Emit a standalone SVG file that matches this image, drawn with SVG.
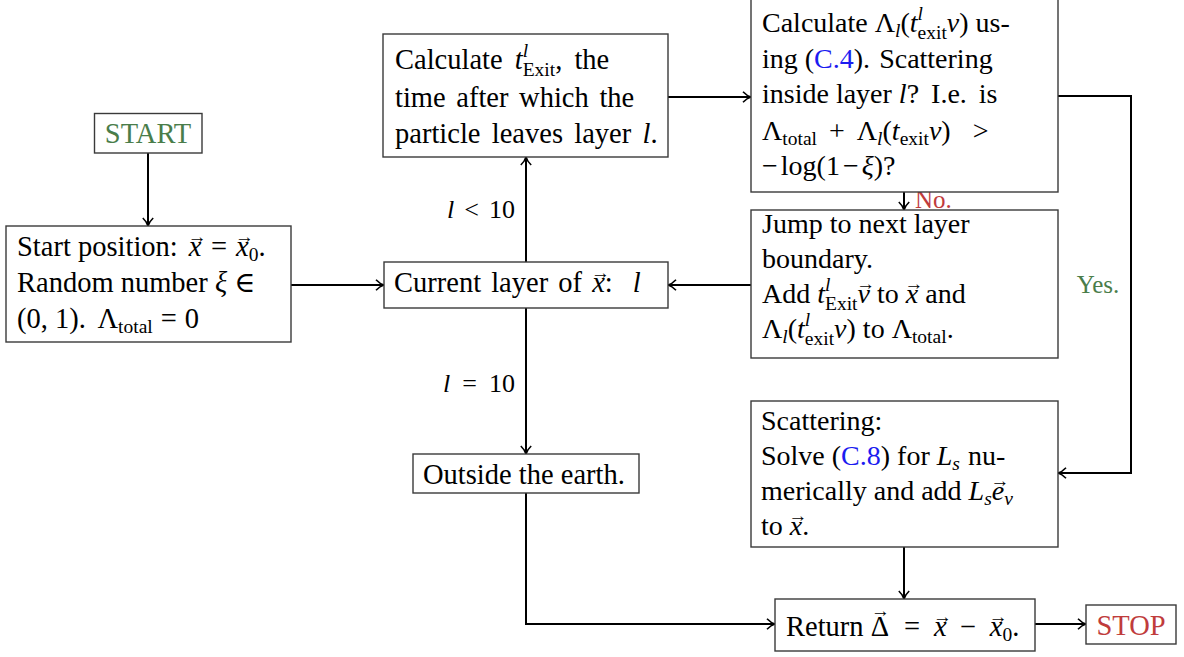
<svg xmlns="http://www.w3.org/2000/svg" width="1184" height="657" viewBox="0 0 1184 657">
<style>
.box{fill:#fff;stroke:#3a3a3a;stroke-width:1.4}
.t{font-family:"Liberation Serif","DejaVu Serif",serif;font-size:28.5px;fill:#000}
.r{font-size:28px}
.i{font-style:italic}
.sm{font-size:19.5px}
.acc{font-family:"Liberation Mono","DejaVu Sans Mono",monospace;font-size:19px;font-style:normal}
.lbl{font-family:"Liberation Serif","DejaVu Serif",serif;font-size:26px;fill:#000}
.link{fill:#1c1cf0}
.green{fill:#4a7d4a}
.red{fill:#c03c3c}
.cn{fill:none;stroke:#000;stroke-width:2;marker-end:url(#ah)}
</style>
<defs>
<marker id="ah" markerWidth="12" markerHeight="12" refX="10" refY="6" orient="auto" markerUnits="userSpaceOnUse">
<path d="M2,0.8 Q6,5 10,6 Q6,7 2,11.2" fill="none" stroke="#000" stroke-width="1.6"/>
</marker>
</defs>
<rect width="1184" height="657" fill="#fff"/>
<g id="connectors">
<path class="cn" d="M148,153 V226"/>
<path class="cn" d="M291,285 H384"/>
<path class="cn" d="M526,262 V157"/>
<path class="cn" d="M668,97 H751"/>
<path class="cn" d="M904,192 V210"/>
<path class="cn" d="M1058,96 H1131 V473 H1058"/>
<path class="cn" d="M751,285 H668"/>
<path class="cn" d="M526,308 V454"/>
<path class="cn" d="M526,493 V624 H775"/>
<path class="cn" d="M904,547 V599"/>
<path class="cn" d="M1035,624 H1086"/>
<text class="lbl" x="515" y="218" text-anchor="end"><tspan class="i">l</tspan><tspan dx="10">&lt;</tspan><tspan dx="10">10</tspan></text>
<text class="lbl" x="515" y="392" text-anchor="end"><tspan class="i">l</tspan><tspan dx="12">=</tspan><tspan dx="12">10</tspan></text>
<text class="lbl red" x="915" y="208" style="font-size:25px">No.</text>
<text class="lbl green" x="1098" y="293" text-anchor="middle" style="font-size:25px">Yes.</text>
</g>
<g id="start">
<rect class="box" x="94.5" y="113.5" width="107.5" height="39.5"/>
<text class="t green" x="148" y="143" text-anchor="middle">START</text>
</g>
<g id="init">
<rect class="box" x="6" y="226" width="285" height="116"/>
<text class="t" x="17" y="256">Start position: <tspan class="i" dx="4">x</tspan><tspan class="acc" dx="-10" dy="-13">→</tspan><tspan dx="8" dy="13">=</tspan><tspan class="i" dx="9">x</tspan><tspan class="acc" dx="-10" dy="-13">→</tspan><tspan class="sm" dx="-1.4" dy="18">0</tspan><tspan dy="-5">.</tspan></text>
<text class="t" x="17" y="292">Random number <tspan class="i">ξ</tspan> ∈</text>
<text class="t" x="17" y="328">(0, 1).  <tspan dx="6">Λ</tspan><tspan class="sm" dy="5">total</tspan><tspan dy="-5" dx="8">=</tspan><tspan dx="8">0</tspan></text>
</g>
<g id="calc-exit">
<rect class="box" x="383" y="34" width="285" height="123"/>
<text class="t" x="395" y="69" word-spacing="5">Calculate <tspan class="i">t</tspan><tspan class="sm i" dy="-12">l</tspan><tspan class="sm" dx="-5.4" dy="19">Exit</tspan><tspan dy="-7">, the</tspan></text>
<text class="t" x="395" y="107" word-spacing="3.5">time after which the</text>
<text class="t" x="395" y="143" word-spacing="4.2">particle leaves layer <tspan class="i">l</tspan>.</text>
</g>
<g id="scatter-test">
<rect class="box" x="751" y="-5" width="307" height="197"/>
<text class="t r" x="762" y="32">Calculate Λ<tspan class="sm i" dy="5">l</tspan><tspan dy="-5">(</tspan><tspan class="i">t</tspan><tspan class="sm i" dy="-12">l</tspan><tspan class="sm" dx="-5.4" dy="19">exit</tspan><tspan class="i" dy="-7">v</tspan>) us-</text>
<text class="t r" x="762" y="68">ing (<tspan class="link">C.4</tspan>).  <tspan dx="2">Scattering</tspan></text>
<text class="t r" x="762" y="103">inside layer <tspan class="i">l</tspan>?  <tspan dx="5">I.e.</tspan>  <tspan dx="5">is</tspan></text>
<text class="t r" x="762" y="140">Λ<tspan class="sm" dy="5">total</tspan><tspan dy="-5" dx="12">+</tspan><tspan dx="12">Λ</tspan><tspan class="sm i" dy="5">l</tspan><tspan dy="-5">(</tspan><tspan class="i">t</tspan><tspan class="sm" dy="5">exit</tspan><tspan class="i" dy="-5">v</tspan>)<tspan dx="22">&gt;</tspan></text>
<text class="t r" x="762" y="175">−<tspan dx="3">log(1</tspan><tspan dx="3">−</tspan><tspan class="i" dx="3">ξ</tspan>)?</text>
</g>
<g id="current">
<rect class="box" x="384" y="262" width="284" height="46"/>
<text class="t" x="394" y="292" word-spacing="3">Current layer of <tspan class="i">x</tspan><tspan class="acc" dx="-10" dy="-13">→</tspan><tspan dx="-1.4" dy="13">:</tspan><tspan class="i" dx="20">l</tspan></text>
</g>
<g id="jump">
<rect class="box" x="751" y="210" width="307" height="148"/>
<text class="t r" x="762" y="233">Jump to next layer</text>
<text class="t r" x="762" y="268">boundary.</text>
<text class="t r" x="762" y="303">Add <tspan class="i">t</tspan><tspan class="sm i" dy="-12">l</tspan><tspan class="sm" dx="-5.4" dy="19">Exit</tspan><tspan class="i" dy="-7">v</tspan><tspan class="acc" dx="-10" dy="-13">→</tspan><tspan dx="-1.4" dy="13"> to </tspan><tspan class="i">x</tspan><tspan class="acc" dx="-10" dy="-13">→</tspan><tspan dx="-1.4" dy="13"> and</tspan></text>
<text class="t r" x="762" y="338">Λ<tspan class="sm i" dy="5">l</tspan><tspan dy="-5">(</tspan><tspan class="i">t</tspan><tspan class="sm i" dy="-12">l</tspan><tspan class="sm" dx="-5.4" dy="19">exit</tspan><tspan class="i" dy="-7">v</tspan>) to Λ<tspan class="sm" dy="5">total</tspan><tspan dy="-5">.</tspan></text>
</g>
<g id="outside">
<rect class="box" x="413" y="454" width="226" height="39"/>
<text class="t" x="423" y="484">Outside the earth.</text>
</g>
<g id="scattering">
<rect class="box" x="751" y="401" width="307" height="146"/>
<text class="t r" x="761" y="430">Scattering:</text>
<text class="t r" x="761" y="465">Solve (<tspan class="link">C.8</tspan>) for <tspan class="i">L</tspan><tspan class="sm i" dy="5">s</tspan><tspan dy="-5" dx="8">nu-</tspan></text>
<text class="t r" x="761" y="500">merically and add <tspan class="i">L</tspan><tspan class="sm i" dy="5">s</tspan><tspan class="i" dy="-5">e</tspan><tspan class="acc" dx="-10" dy="-13">→</tspan><tspan class="sm i" dx="-1.4" dy="18">v</tspan></text>
<text class="t r" x="761" y="535">to <tspan class="i">x</tspan><tspan class="acc" dx="-10" dy="-13">→</tspan><tspan dx="-1.4" dy="13">.</tspan></text>
</g>
<g id="return">
<rect class="box" x="775" y="599" width="260" height="52"/>
<text class="t" x="786" y="636">Return Δ<tspan class="acc" dx="-14.4" dy="-19">→</tspan><tspan dx="18" dy="19">=</tspan><tspan class="i" dx="14">x</tspan><tspan class="acc" dx="-10" dy="-13">→</tspan><tspan dx="11.6" dy="13">−</tspan><tspan class="i" dx="14">x</tspan><tspan class="acc" dx="-10" dy="-13">→</tspan><tspan class="sm" dx="-1.4" dy="18">0</tspan><tspan dy="-5">.</tspan></text>
</g>
<g id="stop">
<rect class="box" x="1086" y="605" width="90" height="39"/>
<text class="t red" x="1131" y="635" text-anchor="middle">STOP</text>
</g>
</svg>
